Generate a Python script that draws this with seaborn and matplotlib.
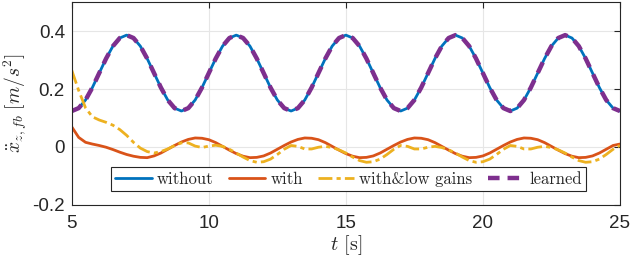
import numpy as np
import seaborn as sns
import matplotlib
matplotlib.use("Agg")
import matplotlib.pyplot as plt

# time axis, 0.25 s step from 5 to 25 s
t = np.arange(5, 25.001, 0.25)

# "without" feedback: one period (16 samples), repeated
without_period = [0.124, 0.134, 0.162, 0.205, 0.255, 0.305, 0.348, 0.376,
                  0.386, 0.376, 0.348, 0.305, 0.255, 0.205, 0.162, 0.134]
without = without_period * 5 + [0.124]
learned = list(without)

# "with" feedback
with_start = [0.069, 0.033, 0.016, 0.010, 0.005, -0.001, -0.009, -0.018,
              -0.026, -0.032, -0.036, -0.037, -0.031, -0.021, -0.008, 0.005,
              0.017, 0.026, 0.031]
with_period = [0.030, 0.025, 0.015, 0.002, -0.011, -0.023, -0.032, -0.037,
               -0.036, -0.031, -0.021, -0.008, 0.005, 0.017, 0.026, 0.031]
with_fb = with_start + with_period * 3 + with_period[:13] + [0.010]

# "with & low gains"
low_start = [0.264, 0.195, 0.135, 0.104, 0.093, 0.085, 0.075, 0.060,
             0.040, 0.016, -0.004, -0.016, -0.021, -0.016, -0.007, 0.005,
             0.014, 0.014, 0.003, -0.002, 0.003, 0.006, 0.002, -0.008]
low_period = [-0.021, -0.035, -0.047, -0.053, -0.051, -0.042, -0.026, -0.008,
              0.005, 0.002, -0.007, -0.007, -0.001, 0.002, -0.002, -0.010]
low_gains = low_start + low_period * 3 + low_period[:9]

labels = ["without", "with", "with&low gains", "learned"]
xticks = [5, 10, 15, 20, 25]
yticks = [-0.2, 0, 0.2, 0.4]
ytick_labels = ["-0.2", "0", "0.2", "0.4"]

sns.set_style("whitegrid")
plt.rcParams["font.family"] = ["Liberation Sans", "DejaVu Sans"]
plt.rcParams["mathtext.fontset"] = "cm"

fig = plt.figure(figsize=(6.3, 2.62), dpi=100)
ax = fig.add_axes([0.114, 0.218, 0.870, 0.774])

sns.lineplot(x=t, y=without, ax=ax, color="#0072BD", linewidth=2.0, label=labels[0])
sns.lineplot(x=t, y=with_fb, ax=ax, color="#D95319", linewidth=2.0, label=labels[1])
sns.lineplot(x=t, y=low_gains, ax=ax, color="#EDB120", linewidth=2.0,
             linestyle=(0, (5, 1.5, 1.5, 1.5)), label=labels[2])
sns.lineplot(x=t, y=learned, ax=ax, color="#7E2F8E", linewidth=3.2,
             linestyle=(0, (2.6, 1.8)), label=labels[3])

ax.set_xlim(5, 25)
ax.set_ylim(-0.2, 0.5)
ax.set_xticks(xticks)
ax.set_xticklabels([str(v) for v in xticks])
ax.set_yticks(yticks)
ax.set_yticklabels(ytick_labels)
ax.tick_params(labelsize=13.5, colors="#262626", direction="in", length=4,
               top=True, right=True)
ax.tick_params(axis="x", pad=7)
ax.tick_params(axis="y", pad=5)
ax.grid(True, color="#e6e6e6", linewidth=0.8)
for s in ax.spines.values():
    s.set_color("#262626")
    s.set_linewidth(0.8)

ax.set_xlabel(r"$t$ [s]", fontsize=14.5, family="cmr10", labelpad=1)
ax.set_ylabel(r"$\ddot{x}_{z,fb}\ [m/s^2]$", fontsize=14, labelpad=2)

leg = ax.legend(loc="center", bbox_to_anchor=(0.505, 0.128), ncol=4,
                prop={"family": "cmr10", "size": 12}, frameon=True, fancybox=False,
                handlelength=2.2, columnspacing=0.9, handletextpad=0.3,
                borderpad=0.25, edgecolor="#262626", framealpha=1)
leg.get_frame().set_linewidth(0.8)

fig.savefig("out.png", dpi=100)
